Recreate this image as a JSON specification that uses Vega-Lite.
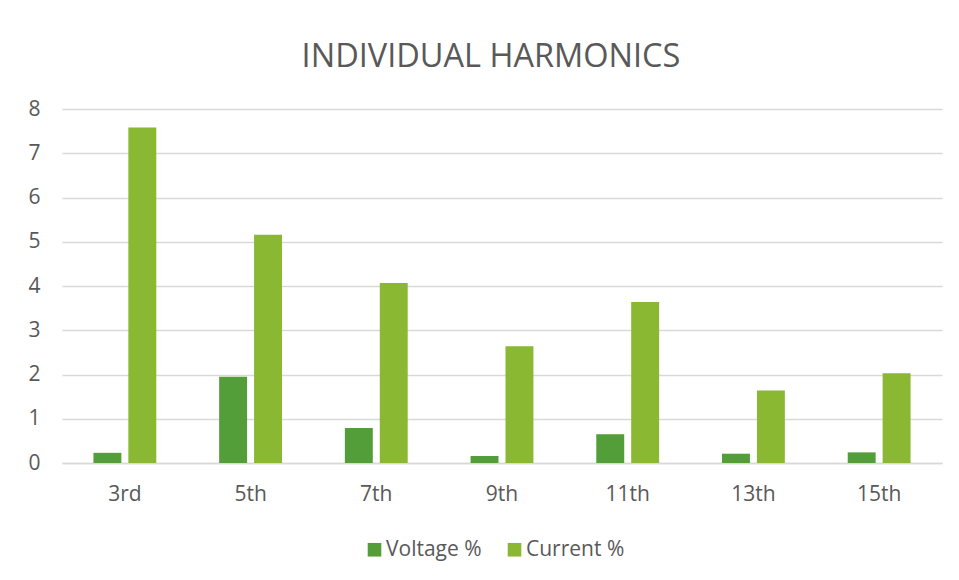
{
  "$schema": "https://vega.github.io/schema/vega-lite/v6.json",
  "width": 880,
  "height": 354,
  "autosize": {"type": "none"},
  "padding": {"left": 62, "top": 109, "right": 17, "bottom": 117},
  "background": "#ffffff",
  "title": {
    "text": "INDIVIDUAL HARMONICS",
    "font": "Open Sans",
    "fontSize": 32.5,
    "fontWeight": "normal",
    "color": "#595959",
    "anchor": "middle",
    "offset": 25,
    "dx": -11
  },
  "data": {
    "values": [
      {"harmonic": "3rd", "series": "Voltage %", "value": 0.23},
      {"harmonic": "3rd", "series": "Current %", "value": 7.58},
      {"harmonic": "5th", "series": "Voltage %", "value": 1.95},
      {"harmonic": "5th", "series": "Current %", "value": 5.16},
      {"harmonic": "7th", "series": "Voltage %", "value": 0.79},
      {"harmonic": "7th", "series": "Current %", "value": 4.07},
      {"harmonic": "9th", "series": "Voltage %", "value": 0.16},
      {"harmonic": "9th", "series": "Current %", "value": 2.64},
      {"harmonic": "11th", "series": "Voltage %", "value": 0.65},
      {"harmonic": "11th", "series": "Current %", "value": 3.64},
      {"harmonic": "13th", "series": "Voltage %", "value": 0.21},
      {"harmonic": "13th", "series": "Current %", "value": 1.64},
      {"harmonic": "15th", "series": "Voltage %", "value": 0.24},
      {"harmonic": "15th", "series": "Current %", "value": 2.03}
    ]
  },
  "mark": {"type": "bar"},
  "encoding": {
    "x": {
      "field": "harmonic",
      "type": "nominal",
      "sort": ["3rd", "5th", "7th", "9th", "11th", "13th", "15th"],
      "scale": {"paddingInner": 0.5, "paddingOuter": 0.25},
      "axis": {
        "title": null,
        "labelAngle": 0,
        "labelFont": "Open Sans",
        "labelFontSize": 21,
        "labelColor": "#595959",
        "labelPadding": 20,
        "ticks": false,
        "domainColor": "#D9D9D9",
        "domainWidth": 1.3,
        "grid": false
      }
    },
    "xOffset": {
      "field": "series",
      "type": "nominal",
      "sort": ["Voltage %", "Current %"],
      "scale": {"paddingInner": 0.2}
    },
    "y": {
      "field": "value",
      "type": "quantitative",
      "scale": {"domain": [0, 8], "nice": false},
      "axis": {
        "title": null,
        "values": [0, 1, 2, 3, 4, 5, 6, 7, 8],
        "labelFont": "Open Sans",
        "labelFontSize": 21,
        "labelColor": "#595959",
        "labelPadding": 22,
        "ticks": false,
        "domain": false,
        "gridColor": "#D9D9D9",
        "gridWidth": 1.3
      }
    },
    "color": {
      "field": "series",
      "type": "nominal",
      "sort": ["Voltage %", "Current %"],
      "scale": {"domain": ["Voltage %", "Current %"], "range": ["#549E39", "#8AB833"]},
      "legend": {
        "title": null,
        "orient": "none",
        "legendX": 302,
        "legendY": 430,
        "direction": "horizontal",
        "symbolType": "square",
        "symbolSize": 185,
        "symbolStrokeWidth": 0,
        "labelFont": "Open Sans",
        "labelFontSize": 21,
        "labelColor": "#595959",
        "labelOffset": 1,
        "columnPadding": 22
      }
    }
  },
  "config": {
    "view": {"stroke": null}
  }
}
